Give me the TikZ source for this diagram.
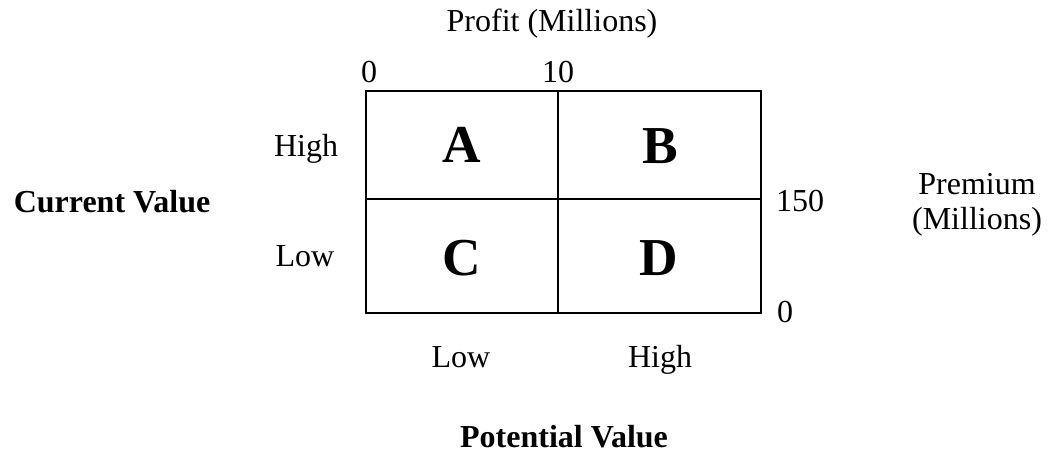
\documentclass[tikz,border=0pt]{standalone}
\usepackage{fontspec}
\setmainfont{Liberation Serif}
\begin{document}
\begin{tikzpicture}[x=0.75pt,y=-0.75pt,
  lbl/.style={inner sep=0pt,anchor=base,font=\fontsize{24}{28}\selectfont},
  blbl/.style={lbl,font=\fontsize{24}{28}\selectfont\bfseries},
  cell/.style={inner sep=0pt,anchor=base,font=\fontsize{40}{44}\selectfont\bfseries},
  gridline/.style={line width=1.5pt}]
\useasboundingbox (0,0) rectangle (1053,452);
% grid corners
\coordinate (tl) at (366,91);
\coordinate (br) at (761,313);
\coordinate (mt) at (558,91);
\coordinate (mb) at (558,313);
\coordinate (ml) at (366,199);
\coordinate (mr) at (761,199);
\draw[gridline] (tl) rectangle (br);
\draw[gridline] (mt) -- (mb);
\draw[gridline] (ml) -- (mr);
% cell letters
\node[cell] (A) at (462,163) {A};
\node[cell] (B) at (660,164) {B};
\node[cell] (C) at (462,276) {C};
\node[cell] (D) at (659,276) {D};
% top axis
\node[lbl] (profit) at (552,32) {Profit (Millions)};
\node[lbl] (p0) at (369,83) {0};
\node[lbl] (p10) at (558,83) {10};
% left axis
\node[lbl] (lhigh) at (306,157) {High};
\node[lbl] (llow) at (305,267) {Low};
\node[blbl] (cv) at (112,213) {Current Value};
% right axis
\node[lbl] (r150) at (800,212) {150};
\node[lbl] (r0) at (785,322) {0};
\node[lbl] (prem) at (977,195) {Premium};
\node[lbl] (mill) at (977,230) {(Millions)};
% bottom axis
\node[lbl] (blow) at (461,367) {Low};
\node[lbl] (bhigh) at (660,367) {High};
\node[blbl] (pv) at (564,447) {Potential Value};
\end{tikzpicture}
\end{document}
